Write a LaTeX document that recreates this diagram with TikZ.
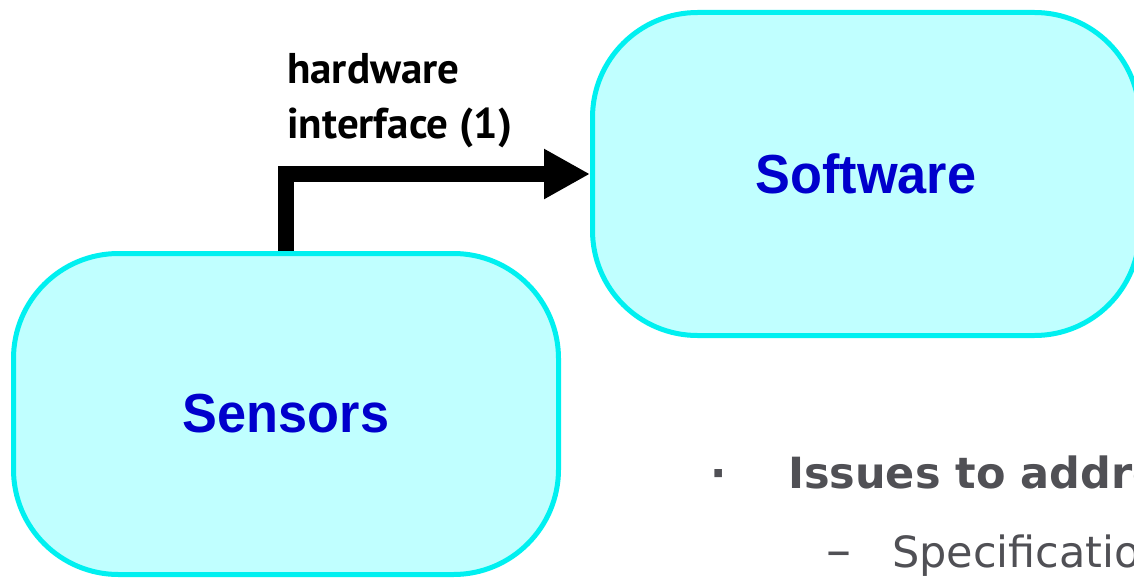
\documentclass[tikz,border=0pt]{standalone}
\usepackage{fontspec}
\setmainfont{Liberation Sans}
\newfontfamily\boxfont[FakeStretch=0.95]{Liberation Sans}
\newfontfamily\labelfont{PT Sans}
\newfontfamily\bodyfont{DejaVu Sans}
\usetikzlibrary{arrows.meta}

\definecolor{boxline}{RGB}{0,240,240}
\definecolor{boxfill}{RGB}{192,255,255}
\definecolor{boxtext}{RGB}{0,0,204}
\definecolor{bodytext}{RGB}{80,80,85}

\tikzset{
  block/.style={draw=boxline, fill=boxfill, line width=5pt,
    rounded corners=105pt, text=boxtext,
    font=\boxfont\bfseries\fontsize{55}{60}\selectfont},
  link/.style={draw=black, line width=16pt, line join=miter,
    -{Triangle[length=46pt,width=47pt]}},
  linklabel/.style={inner sep=0pt, align=left,
    font=\labelfont\bfseries\fontsize{43}{55}\selectfont},
  bullettext/.style={inner sep=0pt, text=bodytext,
    font=\bodyfont\fontsize{43}{50}\selectfont}
}

\begin{document}
\begin{tikzpicture}[x=1pt,y=-1pt]
\useasboundingbox (0,0) rectangle (1134,578);
\clip (0,0) rectangle (1134,578);

% the two blocks
\node[block, minimum width=545pt, minimum height=321pt] (sensors) at (286,414) {Sensors};
\node[block, minimum width=547pt, minimum height=323pt] (software) at (866,174) {Software};

% interface arrow from the sensors up and across to the software
\draw[link] (sensors.north) |- (software.west);
\node[linklabel, anchor=north west] (hwlabel) at (287,53) {hardware\\interface (1)};

% bullet list
\node[bullettext, anchor=base west] (dot) at (710,488) {\bfseries ·};
\node[bullettext, anchor=base west] (issues) at (788,488) {\bfseries Issues to address};
\node[bullettext, anchor=base west] (dash) at (826,567) {\fontsize{50}{50}\selectfont –};
\node[bullettext, anchor=base west] (spec) at (892,567) {Specification};
\end{tikzpicture}
\end{document}
